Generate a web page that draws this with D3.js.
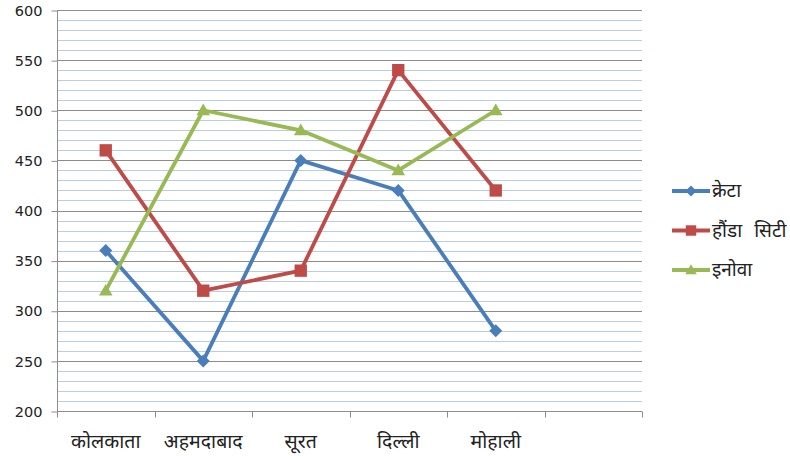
<!DOCTYPE html>
<html>
<head>
<meta charset="utf-8">
<script src="https://cdn.jsdelivr.net/npm/d3@7"></script>
<style>
  body { margin: 0; background: #fff; }
  svg text { font-family: "DejaVu Sans", "Noto Sans", sans-serif; fill: #222; }
</style>
</head>
<body>
<div id="chart"></div>
<script>
const cities = ["कोलकाता", "अहमदाबाद", "सूरत", "दिल्ली", "मोहाली", ""];
const seriesNames = ["क्रेटा", "हौंडा  सिटी", "इनोवा"];
const creta = [360, 250, 450, 420, 280];
const hondaCity = [460, 320, 340, 540, 420];
const innova = [320, 500, 480, 440, 500];
const yTicks = [200, 250, 300, 350, 400, 450, 500, 550, 600];

const colors = ["#4a7ebb", "#be4b48", "#98b954"];
const series = [creta, hondaCity, innova];

// marker shapes: diamond, square, triangle
function marker(s, r) {
    if (s == 0) return "M0," + (-r) + "L" + r + ",0L0," + r + "L" + (-r) + ",0Z";
    if (s == 1) { const h = r * 0.95; return "M" + (-h) + "," + (-h) + "H" + h + "V" + h + "H" + (-h) + "Z"; }
    return "M0," + (-r * 1.05) + "L" + (r * 1.05) + "," + (r * 0.75) + "H" + (-r * 1.05) + "Z";
}

const width = 790, height = 456;
const svg = d3.select("#chart").append("svg")
    .attr("width", width)
    .attr("height", height);

const x = d3.scaleBand().domain(cities.map((c, i) => i)).range([57, 642]);
const y = d3.scaleLinear().domain([200, 600]).range([411, 10]);

// minor grid
const minor = d3.range(210, 600, 10).filter(v => v % 50 != 0);
svg.append("g").selectAll("line").data(minor).enter().append("line")
    .attr("x1", 57).attr("x2", 642)
    .attr("y1", d => Math.round(y(d)) + 0.5).attr("y2", d => Math.round(y(d)) + 0.5)
    .attr("stroke", "#b9cde5").attr("stroke-width", 1);

// major grid
svg.append("g").selectAll("line").data(yTicks.slice(1)).enter().append("line")
    .attr("x1", 57).attr("x2", 642)
    .attr("y1", d => Math.round(y(d)) + 0.5).attr("y2", d => Math.round(y(d)) + 0.5)
    .attr("stroke", "#8c8c8c").attr("stroke-width", 1);

// y axis
const yAxis = svg.append("g")
    .attr("transform", "translate(57.5,0.5)")
    .call(d3.axisLeft(y).tickValues(yTicks).tickSize(6).tickPadding(9));
yAxis.select(".domain").attr("stroke", "#8c8c8c").attr("d", "M0," + Math.round(y(600)) + "V" + Math.round(y(200)));
yAxis.selectAll(".tick line").attr("stroke", "#8c8c8c");
yAxis.selectAll(".tick text").attr("font-size", 14.5).attr("fill", "#222")
    .attr("font-family", "DejaVu Sans, sans-serif");

// x axis
const xAxis = svg.append("g").attr("transform", "translate(0," + (Math.round(y(200)) + 0.5) + ")");
xAxis.append("line").attr("x1", 57).attr("x2", 642).attr("stroke", "#8c8c8c");
const edges = cities.map((c, i) => x(i)).concat([x.range()[1]]);
xAxis.selectAll("line.tk").data(edges).enter().append("line")
    .attr("class", "tk")
    .attr("x1", d => Math.round(d) + 0.5).attr("x2", d => Math.round(d) + 0.5)
    .attr("y1", 0).attr("y2", 6)
    .attr("stroke", "#8c8c8c");
xAxis.selectAll("text").data(cities).enter().append("text")
    .attr("x", (d, i) => x(i) + x.bandwidth() / 2)
    .attr("y", 36)
    .attr("text-anchor", "middle")
    .attr("font-size", 19.5)
    .text(d => d);

// lines
const line = d3.line()
    .x((d, i) => x(i) + x.bandwidth() / 2)
    .y(d => y(d));

series.forEach((vals, s) => {
    svg.append("path")
        .datum(vals)
        .attr("d", line)
        .attr("fill", "none")
        .attr("stroke", colors[s])
        .attr("stroke-width", 3.8)
        .attr("stroke-linejoin", "round");
    svg.append("g").selectAll("path").data(vals).enter().append("path")
        .attr("transform", (d, i) => "translate(" + (x(i) + x.bandwidth() / 2) + "," + y(d) + ")")
        .attr("d", marker(s, 6.5))
        .attr("fill", colors[s]);
});

// legend
const legend = svg.append("g");
seriesNames.forEach((name, s) => {
    const ly = 191 + s * 39.5;
    legend.append("line")
        .attr("x1", 672).attr("x2", 710).attr("y1", ly).attr("y2", ly)
        .attr("stroke", colors[s]).attr("stroke-width", 3.8);
    legend.append("path")
        .attr("transform", "translate(691," + ly + ")")
        .attr("d", marker(s, 5.5))
        .attr("fill", colors[s]);
    legend.append("text")
        .attr("x", 712).attr("y", ly + 6)
        .attr("font-size", 19)
        .style("white-space", "pre")
        .text(name);
});
</script>
</body>
</html>
